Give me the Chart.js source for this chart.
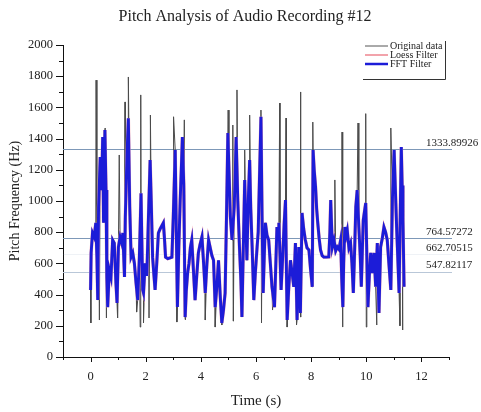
<!DOCTYPE html>
<html><head><meta charset="utf-8">
<script src="https://cdn.jsdelivr.net/npm/chart.js@4/dist/chart.umd.min.js"></script>
<style>html,body{margin:0;padding:0;background:#fff}</style>
</head><body>
<canvas id="c" width="481" height="412"></canvas>
<script>
const chartTitle = 'Pitch Analysis of Audio Recording #12';
const xTitle = 'Time (s)';
const yTitle = 'Pitch Frequency (Hz)';
const xTickLabels = [0, 2, 4, 6, 8, 10, 12];
const xMinorTicks = [-1, 1, 3, 5, 7, 9, 11, 13];
const yTickLabels = [0, 200, 400, 600, 800, 1000, 1200, 1400, 1600, 1800, 2000];
const yMinorTicks = [100, 300, 500, 700, 900, 1100, 1300, 1500, 1700, 1900];
const seriesNames = ['Original data', 'Loess Filter', 'FFT Filter'];

// FFT filter (blue)
const fftTime = [
  0.00,0.02,0.07,0.13,0.19,0.23,0.26,0.29,0.35,0.40,
  0.44,0.47,0.52,0.56,0.59,0.62,0.68,0.74,0.80,0.86,
  0.92,0.96,1.01,1.07,1.13,1.17,1.23,1.26,1.32,1.37,
  1.42,1.47,1.53,1.59,1.65,1.71,1.77,1.83,1.89,1.92,
  1.98,2.04,2.10,2.16,2.20,2.25,2.30,2.34,2.40,2.46,
  2.52,2.58,2.64,2.68,2.72,2.80,2.88,2.95,3.00,3.07,
  3.11,3.15,3.20,3.25,3.30,3.33,3.38,3.43,3.47,3.52,
  3.57,3.62,3.67,3.73,3.79,3.85,3.91,3.97,4.04,4.10,
  4.16,4.22,4.28,4.34,4.40,4.46,4.52,4.58,4.64,4.70,
  4.76,4.82,4.88,4.93,4.98,5.02,5.07,5.13,5.17,5.21,
  5.25,5.28,5.34,5.40,5.45,5.49,5.54,5.59,5.63,5.67,
  5.72,5.77,5.81,5.86,5.92,5.98,6.04,6.08,6.12,6.18,
  6.22,6.26,6.30,6.34,6.40,6.46,6.52,6.58,6.63,6.67,
  6.72,6.76,6.80,6.83,6.87,6.91,6.97,7.02,7.07,7.10,
  7.13,7.19,7.25,7.31,7.37,7.43,7.49,7.55,7.61,7.67,
  7.73,7.79,7.85,7.92,7.98,8.04,8.07,8.11,8.16,8.20,
  8.24,8.29,8.34,8.40,8.46,8.55,8.64,8.68,8.71,8.74,
  8.77,8.83,8.89,8.95,9.01,9.07,9.11,9.15,9.18,9.22,
  9.27,9.31,9.37,9.43,9.48,9.53,9.58,9.62,9.67,9.73,
  9.78,9.82,9.86,9.89,9.94,9.98,10.02,10.06,10.11,10.16,
  10.22,10.28,10.34,10.40,10.46,10.52,10.58,10.64,10.70,10.76,
  10.82,10.89,10.95,11.01,11.05,11.10,11.15,11.19,11.23,11.27,
  11.30,11.33,11.37];
const fftValues = [
  430,667,795,770,860,641,365,962,1282,1070,
  1410,860,1455,1070,513,320,558,513,750,730,
  474,346,705,770,730,795,513,898,1282,1530,
  962,641,667,600,474,365,641,1050,430,410,
  600,520,900,1263,1000,640,520,430,600,795,
  820,840,860,760,640,630,635,640,900,1327,
  800,320,700,1000,1250,1410,1100,256,420,538,
  600,700,750,560,365,520,667,720,770,600,
  410,600,750,700,650,620,320,450,620,400,
  218,300,410,900,1436,1200,900,750,850,962,
  1200,1410,1000,705,500,256,700,1135,850,620,
  1000,1263,950,705,365,550,705,800,1100,1540,
  900,410,650,860,780,750,600,450,380,320,
  600,833,780,860,650,430,650,850,1006,600,
  237,450,620,540,450,730,237,705,282,923,
  820,750,700,686,560,450,1327,1200,1090,950,
  860,760,686,650,641,640,641,800,1006,850,
  705,750,680,705,690,750,500,320,600,833,
  780,812,700,730,600,410,700,962,1070,833,
  650,450,700,878,940,987,650,320,520,667,
  538,667,450,730,282,705,760,833,800,750,
  600,430,1026,1327,1100,833,600,410,900,1346,
  1100,878,450];
// Loess filter (pink) - hidden almost entirely beneath the FFT curve
const loessValues = [
  430,667,795,770,860,641,365,962,1282,1070,
  1410,860,1455,1070,513,320,558,513,750,730,
  474,346,705,770,730,795,513,898,1282,1530,
  962,641,667,600,474,365,641,1050,430,410,
  600,520,900,1263,1000,640,520,430,600,795,
  820,840,860,760,640,630,635,640,900,1327,
  800,320,700,1000,1250,1410,1100,256,420,538,
  600,700,750,560,365,520,667,720,770,600,
  410,600,750,700,650,620,320,450,620,400,
  218,300,410,900,1436,1200,900,750,850,962,
  1200,1410,1000,705,500,256,700,1135,850,620,
  1000,1263,950,705,365,550,705,800,1100,1540,
  900,410,650,860,780,750,600,450,380,320,
  600,833,780,860,650,430,650,850,1006,600,
  237,450,620,540,450,730,237,705,282,923,
  820,750,700,686,560,450,1327,1200,1090,950,
  860,760,686,650,641,640,641,800,1006,850,
  705,750,680,705,690,750,500,320,600,833,
  780,812,700,730,600,410,700,962,1070,833,
  650,450,700,878,940,987,650,320,520,667,
  538,667,450,730,282,705,760,833,800,750,
  600,430,1026,1327,1100,833,600,410,900,1346,
  1100,878,450];
// Original data: spikes that stick out of the filtered curves
const spikeTime = [0.01,0.20,0.32,0.53,0.56,0.98,1.04,1.25,1.37,1.67,1.80,1.82,1.92,2.12,2.17,3.01,3.13,3.40,3.44,4.16,4.52,4.76,4.99,5.16,5.18,5.31,5.59,5.77,6.18,6.20,6.60,6.86,7.09,7.13,7.47,7.61,7.63,8.06,8.86,9.12,9.14,9.70,9.98,10.00,10.38,10.89,11.22,11.27,11.31];
const spikeValues = [218,1775,237,1468,250,250,1295,1635,1795,288,192,1680,218,250,1551,1540,224,1520,240,237,192,205,1583,1487,230,1712,1327,1551,1583,218,301,1628,1532,192,205,1699,256,1506,1135,1442,192,1500,1560,192,205,1468,200,1346,173];

const refValues = [1333.89926, 764.57272, 662.70515, 547.82117];
const refLabels = ['1333.89926', '764.57272', '662.70515', '547.82117'];
const refColors = ['#7d98b8', '#7d98b8', 'rgba(125,152,184,0.12)', '#b9c7d8'];

const fftData = fftTime.map((t, i) => ({x: t, y: fftValues[i]}));
const loessData = fftTime.map((t, i) => ({x: t, y: loessValues[i]}));
const origData = fftData.concat(spikeTime.map((t, i) => ({x: t, y: spikeValues[i]})))
  .sort((a, b) => a.x - b.x);

const serif = 'Liberation Serif, Times New Roman, serif';

const decor = {
  id: 'decor',
  beforeDatasetsDraw(chart) {
    const {ctx, scales: {x, y}} = chart;
    ctx.save();
    refValues.forEach((v, i) => {
      const py = Math.round(y.getPixelForValue(v)) + 0.5;
      ctx.strokeStyle = refColors[i];
      ctx.lineWidth = 1;
      ctx.beginPath();
      ctx.moveTo(x.left, py);
      ctx.lineTo(x.right + 3, py);
      ctx.stroke();
    });
    ctx.restore();
  },
  afterDatasetsDraw(chart) {
    const {ctx, scales: {x, y}} = chart;
    ctx.save();
    // title
    ctx.fillStyle = '#222';
    ctx.font = '16px ' + serif;
    ctx.textAlign = 'center';
    ctx.textBaseline = 'middle';
    ctx.fillText(chartTitle, 245, 17);
    // tick marks
    ctx.strokeStyle = '#111';
    ctx.lineWidth = 1;
    yTickLabels.forEach(v => {
      const py = Math.round(y.getPixelForValue(v)) + 0.5;
      ctx.beginPath(); ctx.moveTo(x.left - 7, py); ctx.lineTo(x.left, py); ctx.stroke();
    });
    yMinorTicks.forEach(v => {
      const py = Math.round(y.getPixelForValue(v)) + 0.5;
      ctx.beginPath(); ctx.moveTo(x.left - 4, py); ctx.lineTo(x.left, py); ctx.stroke();
    });
    xTickLabels.forEach(v => {
      const px = Math.round(x.getPixelForValue(v)) + 0.5;
      ctx.beginPath(); ctx.moveTo(px, y.bottom); ctx.lineTo(px, y.bottom + 5); ctx.stroke();
    });
    xMinorTicks.forEach(v => {
      const px = Math.round(x.getPixelForValue(v)) + 0.5;
      ctx.beginPath(); ctx.moveTo(px, y.bottom); ctx.lineTo(px, y.bottom + 3); ctx.stroke();
    });
    // reference labels
    ctx.fillStyle = '#222';
    ctx.font = '11px ' + serif;
    ctx.textAlign = 'left';
    refValues.forEach((v, i) => {
      ctx.fillText(refLabels[i], 426, y.getPixelForValue(v) - 6);
    });
    // legend
    const lx0 = 365, lx1 = 388, ly = [46, 55, 64];
    const lcol = ['#555', '#f2a3ab', '#1c1cd8'];
    const lw = [1, 2, 2.5];
    ctx.font = '10px ' + serif;
    seriesNames.forEach((n, i) => {
      ctx.strokeStyle = lcol[i]; ctx.lineWidth = lw[i];
      ctx.beginPath(); ctx.moveTo(lx0, ly[i]); ctx.lineTo(lx1, ly[i]); ctx.stroke();
      ctx.fillStyle = '#222';
      ctx.fillText(n, 390, ly[i]);
    });
    ctx.strokeStyle = '#333'; ctx.lineWidth = 1;
    ctx.beginPath();
    ctx.moveTo(445.5, 41); ctx.lineTo(445.5, 79.5); ctx.lineTo(363, 79.5);
    ctx.stroke();
    ctx.restore();
  }
};

new Chart(document.getElementById('c'), {
  type: 'line',
  data: {
    datasets: [
      {label: seriesNames[0], data: origData, borderColor: '#4a4a4a', borderWidth: 1, pointRadius: 0, tension: 0, order: 3},
      {label: seriesNames[1], data: loessData, borderColor: '#f2a3ab', borderWidth: 3.4, pointRadius: 0, tension: 0, order: 2},
      {label: seriesNames[2], data: fftData, borderColor: '#1c1cd8', borderWidth: 2.9, pointRadius: 0, tension: 0, order: 1}
    ]
  },
  options: {
    responsive: false,
    animation: false,
    layout: {padding: {right: 32, top: 45, bottom: 0, left: 0}},
    plugins: {
      legend: {display: false},
      tooltip: {enabled: false},
      title: {display: false}
    },
    scales: {
      x: {
        type: 'linear', min: -1, max: 13,
        afterBuildTicks: s => { s.ticks = xTickLabels.map(v => ({value: v})); },
        afterFit: s => { s.height = 55; },
        ticks: {color: '#222', font: {family: serif, size: 12.5}, padding: 12, maxRotation: 0, autoSkip: false,
          callback: v => String(v)},
        grid: {display: false, drawTicks: false},
        border: {display: true, color: '#111', width: 1},
        title: {display: true, text: xTitle, color: '#222', font: {family: serif, size: 15}, padding: {top: 0, bottom: 2}}
      },
      y: {
        min: 0, max: 2000,
        afterBuildTicks: s => { s.ticks = yTickLabels.map(v => ({value: v})); },
        afterFit: s => { s.width = 63; },
        ticks: {color: '#222', font: {family: serif, size: 12.5}, padding: 10, autoSkip: false,
          callback: v => String(v)},
        grid: {display: false, drawTicks: false},
        border: {display: true, color: '#111', width: 1},
        title: {display: true, text: yTitle, color: '#222', font: {family: serif, size: 14}, padding: {top: 7, bottom: 0}}
      }
    }
  },
  plugins: [decor]
});
</script>
</body></html>
